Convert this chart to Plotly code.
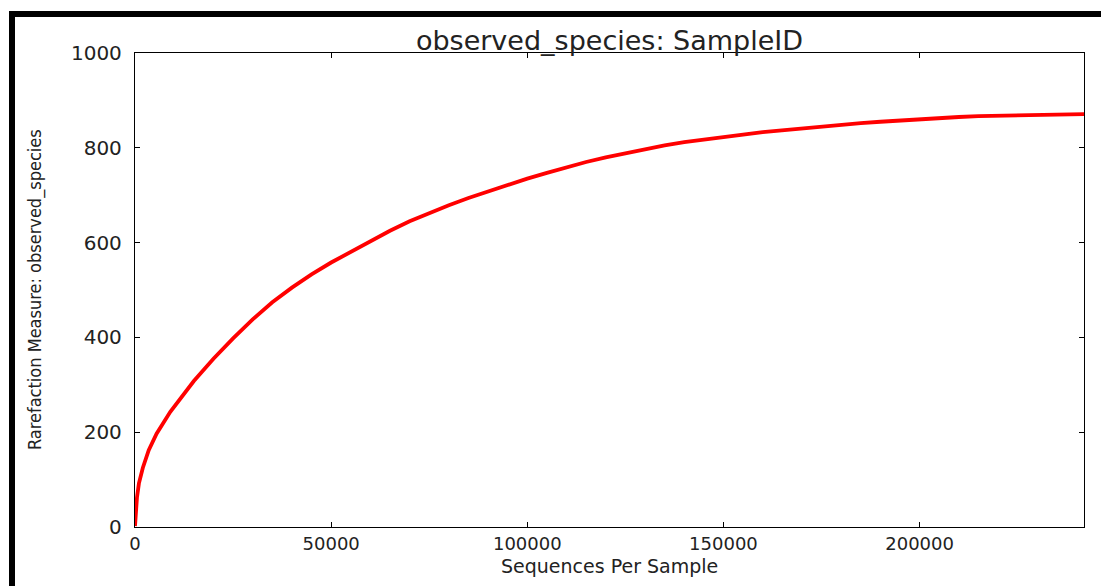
import plotly.graph_objects as go

# Data
sequences_per_sample = [
    0, 250, 500, 1000, 2000, 3500, 5500, 9000, 12500, 15000, 20000, 25000,
    30000, 35000, 40000, 45000, 50000, 55000, 60000, 65000, 70000, 75000,
    80000, 85000, 90000, 95000, 100000, 105000, 110000, 115000, 120000,
    125000, 130000, 135000, 140000, 145000, 150000, 155000, 160000, 165000,
    170000, 175000, 180000, 185000, 190000, 195000, 200000, 205000, 210000,
    215000, 220000, 225000, 230000, 235000, 241900,
]
observed_species = [
    2, 40, 62, 92, 125, 162, 197, 243, 282, 308, 355, 398,
    438, 474, 505, 533, 558, 581, 604, 625, 645, 663,
    679, 694, 708, 722, 735, 747, 759, 770, 780,
    789, 797, 805, 812, 818, 823, 828, 833, 837,
    841, 845, 849, 852, 855, 858, 861, 863, 865,
    867, 868, 869, 870, 870, 871,
]
x_ticks = [0, 50000, 100000, 150000, 200000]
y_ticks = [0, 200, 400, 600, 800, 1000]

title_text = "observed_species: SampleID"
x_title = "Sequences Per Sample"
y_title = "Rarefaction Measure: observed_species"

fig = go.Figure()
fig.add_trace(go.Scatter(
    x=sequences_per_sample, y=observed_species, mode="lines",
    line=dict(color="#ff0000", width=3.8), showlegend=False,
))

txt = "#222222"
axis_common = dict(
    showline=True, linecolor="black", linewidth=1.3, mirror="ticks",
    ticks="inside", ticklen=5, tickwidth=1.3, tickcolor="black",
    showgrid=False, zeroline=False,
)

W, H = 1101, 586
L, R, T, B = 135, 17, 53, 59
pw, ph = W - L - R, H - T - B


def px_x(p):
    return (p - L) / pw


def px_y(p):
    return (H - B - p) / ph


fig.update_xaxes(
    range=[0, sequences_per_sample[-1]], tickvals=x_ticks,
    ticktext=[str(v) for v in x_ticks],
    tickfont=dict(family="DejaVu Sans", size=18, color=txt),
    ticklabelstandoff=0,
    **axis_common,
)
fig.update_yaxes(
    range=[0, 1000], tickvals=y_ticks,
    ticktext=[str(v) for v in y_ticks],
    tickfont=dict(family="DejaVu Sans", size=20, color=txt),
    ticklabelstandoff=8,
    **axis_common,
)

fig.update_layout(
    width=W, height=H,
    margin=dict(l=L, r=R, t=T, b=B),
    paper_bgcolor="white", plot_bgcolor="white",
    title=dict(text=title_text, x=0.5, xanchor="center", xref="paper",
               y=1.0, yref="paper", yanchor="bottom", pad=dict(b=3),
               font=dict(family="DejaVu Sans", size=27, color=txt)),
    annotations=[
        dict(text=x_title, xref="paper", yref="paper", x=0.5, y=px_y(566),
             xanchor="center", yanchor="middle", showarrow=False,
             font=dict(family="DejaVu Sans", size=19, color=txt)),
        dict(text=y_title, xref="paper", yref="paper", x=px_x(35), y=0.5,
             xanchor="center", yanchor="middle", showarrow=False, textangle=-90,
             font=dict(family="Liberation Sans Narrow, DejaVu Sans Condensed, Liberation Sans",
                       size=18, color=txt)),
    ],
    shapes=[
        dict(type="rect", xref="paper", yref="paper",
             x0=px_x(9), x1=px_x(1101), y0=px_y(17), y1=px_y(11),
             fillcolor="black", line=dict(width=0), layer="above"),
        dict(type="rect", xref="paper", yref="paper",
             x0=px_x(9), x1=px_x(15), y0=px_y(586), y1=px_y(11),
             fillcolor="black", line=dict(width=0), layer="above"),
    ],
)

fig.write_html("out.html")
